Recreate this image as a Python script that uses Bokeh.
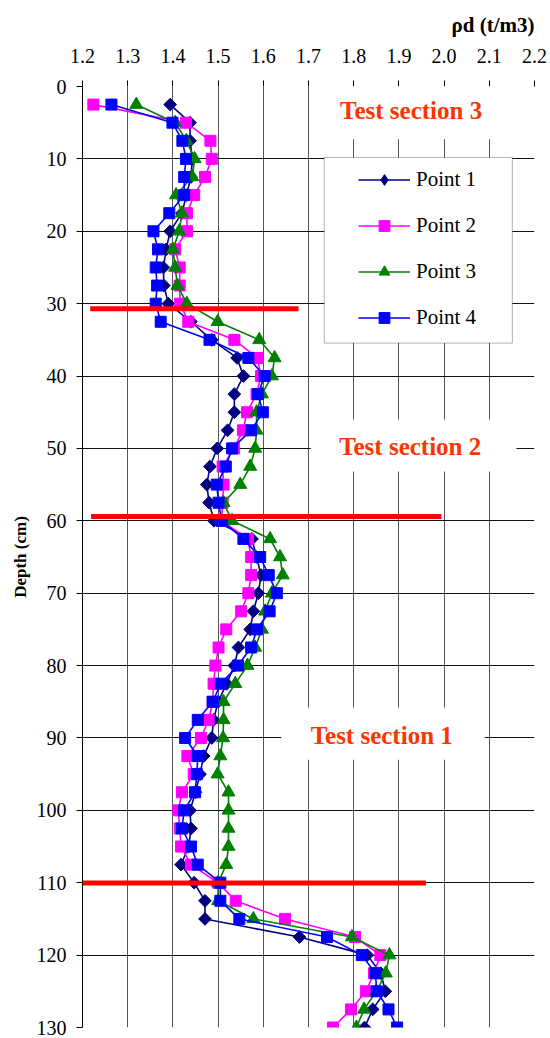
import numpy as np
from bokeh.plotting import figure
from bokeh.models import (Range1d, FixedTicker, PrintfTickFormatter, Legend, LegendItem,
                          BoxAnnotation, Label, Title)
from bokeh.embed import file_html
from bokeh.resources import INLINE

# ---------------- data ----------------
depth = [2.5, 5, 7.5, 10, 12.5, 15, 17.5, 20, 22.5, 25, 27.5, 30,
         32.5, 35, 37.5, 40, 42.5, 45, 47.5, 50, 52.5, 55, 57.5, 60,
         62.5, 65, 67.5, 70, 72.5, 75, 77.5, 80, 82.5, 85, 87.5, 90,
         92.5, 95, 97.5, 100, 102.5, 105, 107.5, 110, 112.5, 115, 117.5, 120,
         122.5, 125, 127.5, 130]

point1 = [1.394, 1.438, 1.438, 1.443, 1.440, 1.430, 1.420, 1.394, 1.385, 1.379, 1.380, 1.390,
          1.440, 1.486, 1.542, 1.556, 1.536, 1.536, 1.521, 1.498, 1.482, 1.475, 1.480, 1.491,
          1.575, 1.585, 1.595, 1.589, 1.578, 1.571, 1.545, 1.536, 1.519, 1.500, 1.490, 1.486,
          1.468, 1.460, 1.450, 1.438, 1.440, 1.435, 1.418, 1.447, 1.471, 1.471, 1.680, 1.830,
          1.860, 1.870, 1.842, 1.824]

point2 = [1.224, 1.429, 1.483, 1.486, 1.471, 1.447, 1.431, 1.431, 1.405, 1.415, 1.415, 1.416,
          1.434, 1.536, 1.587, 1.595, 1.585, 1.564, 1.555, 1.535, 1.510, 1.512, 1.510, 1.508,
          1.566, 1.573, 1.573, 1.567, 1.551, 1.518, 1.501, 1.494, 1.490, 1.488, 1.479, 1.462,
          1.432, 1.446, 1.420, 1.412, 1.415, 1.418, 1.440, 1.500, 1.539, 1.648, 1.803, 1.859,
          1.845, 1.827, 1.794, 1.754]

point3 = [1.319, 1.405, 1.430, 1.448, 1.443, 1.407, 1.420, 1.414, 1.400, 1.405, 1.410, 1.431,
          1.499, 1.591, 1.625, 1.619, 1.597, 1.585, 1.585, 1.582, 1.571, 1.549, 1.512, 1.531,
          1.615, 1.637, 1.643, 1.619, 1.604, 1.597, 1.582, 1.565, 1.538, 1.512, 1.512, 1.511,
          1.505, 1.499, 1.523, 1.523, 1.523, 1.523, 1.518, 1.500, 1.500, 1.578, 1.796, 1.879,
          1.871, 1.850, 1.823, 1.806]

point4 = [1.264, 1.399, 1.421, 1.429, 1.425, 1.425, 1.392, 1.357, 1.367, 1.362, 1.365, 1.362,
          1.373, 1.481, 1.567, 1.603, 1.588, 1.599, 1.573, 1.531, 1.517, 1.497, 1.501, 1.508,
          1.556, 1.593, 1.612, 1.630, 1.614, 1.586, 1.573, 1.544, 1.506, 1.488, 1.455, 1.427,
          1.455, 1.453, 1.449, 1.425, 1.420, 1.440, 1.455, 1.505, 1.505, 1.547, 1.741, 1.818,
          1.848, 1.851, 1.877, 1.896]

series_names = ["Point 1", "Point 2", "Point 3", "Point 4"]

# section boundary lines (depth, x start, x end)
boundary_depth = [30.7, 59.4, 110.05]
boundary_x0 = [1.217, 1.219, 1.182]
boundary_x1 = [1.678, 1.994, 1.960]

section_names = ["Test section 3", "Test section 2", "Test section 1"]

x_ticks = [1.2, 1.3, 1.4, 1.5, 1.6, 1.7, 1.8, 1.9, 2.0, 2.1, 2.2]
y_ticks = [0, 10, 20, 30, 40, 50, 60, 70, 80, 90, 100, 110, 120, 130]

# ---------------- figure ----------------
SERIF = "Liberation Serif"

p = figure(width=550, height=1038, x_range=Range1d(1.2, 2.2), y_range=Range1d(130, 0),
           x_axis_location="above", output_backend="svg", toolbar_location=None,
           min_border_left=82, min_border_right=16, min_border_top=86, min_border_bottom=11)
p.outline_line_color = None
p.background_fill_color = "white"
p.border_fill_color = "white"

p.title = Title(text="ρd (t/m3)", align="right", text_font=SERIF, text_font_size="21px",
                text_font_style="bold", text_color="black", standoff=17)

# axes
p.xaxis.ticker = FixedTicker(ticks=x_ticks)
p.xaxis.formatter = PrintfTickFormatter(format="%.1f")
p.yaxis.ticker = FixedTicker(ticks=y_ticks)
for ax in (p.xaxis[0], p.yaxis[0]):
    ax.major_label_text_font = SERIF
    ax.major_label_text_font_size = "20px"
    ax.major_label_text_color = "black"
    ax.major_tick_out = 6
    ax.major_tick_in = 0
    ax.minor_tick_out = 0
    ax.minor_tick_in = 0
    ax.major_tick_line_color = "black"
p.xaxis.axis_line_color = None
p.xaxis.major_label_standoff = 18
p.yaxis.axis_line_color = "black"
p.yaxis.major_label_standoff = 10
p.yaxis.axis_label = "Depth (cm)"
p.yaxis.axis_label_text_font = SERIF
p.yaxis.axis_label_text_font_size = "17px"
p.yaxis.axis_label_text_font_style = "bold"
p.yaxis.axis_label_text_color = "black"
p.yaxis.axis_label_standoff = 4

p.xgrid.ticker = FixedTicker(ticks=x_ticks)
p.ygrid.ticker = FixedTicker(ticks=y_ticks)
p.xgrid.grid_line_color = "#555555"
p.ygrid.grid_line_color = "#111111"
p.xgrid.grid_line_width = 1
p.ygrid.grid_line_width = 1

# white text boxes covering gridlines
p.add_layout(BoxAnnotation(left=1.713, right=2.173, top=-0.5, bottom=7.3,
                           fill_color="white", fill_alpha=1, line_color=None))
p.add_layout(BoxAnnotation(left=1.705, right=2.160, top=46.0, bottom=53.2,
                           fill_color="white", fill_alpha=1, line_color=None))
p.add_layout(BoxAnnotation(left=1.640, right=2.090, top=85.8, bottom=93.0,
                           fill_color="white", fill_alpha=1, line_color=None))

# series
colors = ["#000080", "#FF00FF", "#008000", "#0000FF"]
series = [point1, point2, point3, point4]
items = []
for name, vals, col in zip(series_names, series, colors):
    lr = p.line(vals, depth, line_color=col, line_width=1.6)
    if name == "Point 1":
        sr = p.scatter(vals, depth, marker="square", angle=np.pi / 4, size=9,
                       fill_color=col, line_color=col)
        # legend sample (legend glyphs are never rotated); zero size in the plot itself
        lg = p.scatter(vals, depth, marker="diamond", size=0, fill_color=col, line_color=col,
                       line_alpha=1)
        items.append(LegendItem(label=name, renderers=[lr, lg]))
        continue
    elif name == "Point 3":
        sr = p.scatter(vals, depth, marker="triangle", size=13,
                       fill_color=col, line_color=col)
    else:
        sr = p.scatter(vals, depth, marker="square", size=11,
                       fill_color=col, line_color=col)
    items.append(LegendItem(label=name, renderers=[lr, sr]))

# section boundary lines
p.segment(x0=boundary_x0, y0=boundary_depth, x1=boundary_x1, y1=boundary_depth,
          line_color="#FF0000", line_width=5)

# section labels
label_pos = [(1.927, 3.3), (1.925, 49.7), (1.862, 89.6)]
for txt, (lx, ly) in zip(section_names, label_pos):
    p.add_layout(Label(x=lx, y=ly, text=txt, text_align="center", text_baseline="middle",
                       text_font=SERIF, text_font_size="25px", text_font_style="bold",
                       text_color="#FF3300"))

# legend frame
p.add_layout(BoxAnnotation(left=1.735, right=2.151, top=9.8, bottom=35.45,
                           fill_color="white", fill_alpha=1, line_color="black", line_width=1))

legend = Legend(items=items, location=(276, 696), padding=0, margin=0,
                border_line_color=None, background_fill_alpha=0,
                glyph_width=52, glyph_height=27, label_height=27, spacing=19,
                label_standoff=6, label_text_font=SERIF, label_text_font_size="21px",
                label_text_color="black")
p.add_layout(legend)

open("out.html", "w").write(file_html(p, INLINE))
